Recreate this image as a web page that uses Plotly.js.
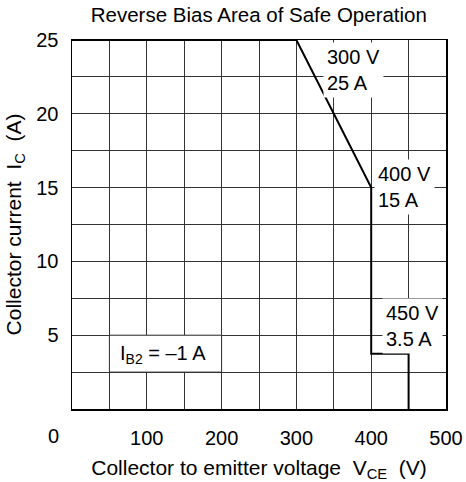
<!DOCTYPE html>
<html>
<head>
<meta charset="utf-8">
<script src="https://cdn.plot.ly/plotly-3.0.1.min.js"></script>
<style>html,body{margin:0;padding:0;background:#fff;}</style>
</head>
<body>
<div id="chart" style="width:466px;height:482px;"></div>
<script>
const voltage = [0, 300, 400, 400, 450, 450];
const current = [25, 25, 15, 3.75, 3.75, 0];
const xTicks = [100, 200, 300, 400, 500];
const yTicks = [5, 10, 15, 20, 25];
const labelText = ["300 V<br>25 A", "400 V<br>15 A", "450 V<br>3.5 A"];
const labelX = [336, 404, 414];
const labelY = [22.95, 15.05, 5.6];

const font = {family: "Liberation Sans, Arial, sans-serif", color: "#000"};
const gridColor = "#333";
const fs = 20;

const annotations = labelText.map((t, i) => ({
  x: labelX[i], y: labelY[i], xref: "x", yref: "y",
  text: t, showarrow: false, align: "left", xanchor: "left", yanchor: "middle",
  bgcolor: "#fff", borderpad: 3, font: Object.assign({size: fs}, font)
}));
annotations.push({
  x: 122, y: 3.7, xref: "x", yref: "y", text: "I<sub>B2</sub> = \u20131 A",
  showarrow: false, xanchor: "center", yanchor: "middle",
  font: Object.assign({size: fs}, font)
});
annotations.push({
  x: 0, y: 0, xref: "paper", yref: "paper", xanchor: "right", yanchor: "top",
  xshift: -11, yshift: -14,
  text: "0", showarrow: false, font: Object.assign({size: fs}, font)
});

const layout = {
  width: 466, height: 482,
  margin: {l: 72, r: 20, t: 40, b: 73},
  paper_bgcolor: "#fff", plot_bgcolor: "#fff",
  showlegend: false,
  font: font,
  title: {text: "Reverse Bias Area of Safe Operation", font: Object.assign({size: 20.5}, font), x: 0.5555, xanchor: "center", y: 0.969, yanchor: "middle"},
  xaxis: {
    range: [0, 500], tickvals: xTicks, ticktext: xTicks.map(String),
    showgrid: true, gridcolor: gridColor, gridwidth: 1,
    minor: {dtick: 50, showgrid: true, gridcolor: gridColor, gridwidth: 1},
    showline: true, linecolor: "#000", linewidth: 1.5, mirror: true,
    ticks: "outside", ticklen: 10, tickcolor: "rgba(0,0,0,0)",
    tickfont: Object.assign({size: fs}, font), zeroline: false, fixedrange: true,
    title: {text: "Collector to emitter voltage  V<sub>CE</sub>  (V)", font: Object.assign({size: 21}, font), standoff: 13}
  },
  yaxis: {
    range: [0, 25], tickvals: yTicks, ticktext: yTicks.map(String),
    showgrid: true, gridcolor: gridColor, gridwidth: 1,
    minor: {dtick: 2.5, showgrid: true, gridcolor: gridColor, gridwidth: 1},
    showline: true, linecolor: "#000", linewidth: 1.5, mirror: true,
    ticks: "outside", ticklen: 8, tickcolor: "rgba(0,0,0,0)",
    tickfont: Object.assign({size: fs}, font), zeroline: false, fixedrange: true,
    title: {text: "Collector current  I<sub>C</sub>  (A)", font: Object.assign({size: 21}, font), standoff: 9}
  },
  shapes: [{
    type: "rect", xref: "x", yref: "y", x0: 50, x1: 200, y0: 2.5, y1: 5,
    fillcolor: "#fff", line: {color: gridColor, width: 1}, layer: "above"
  }],
  annotations: annotations
};

const trace = {
  x: voltage, y: current, type: "scatter", mode: "lines",
  line: {color: "#000", width: 2}, hoverinfo: "skip", cliponaxis: false
};

Plotly.newPlot("chart", [trace], layout, {staticPlot: true, displayModeBar: false});
</script>
</body>
</html>
